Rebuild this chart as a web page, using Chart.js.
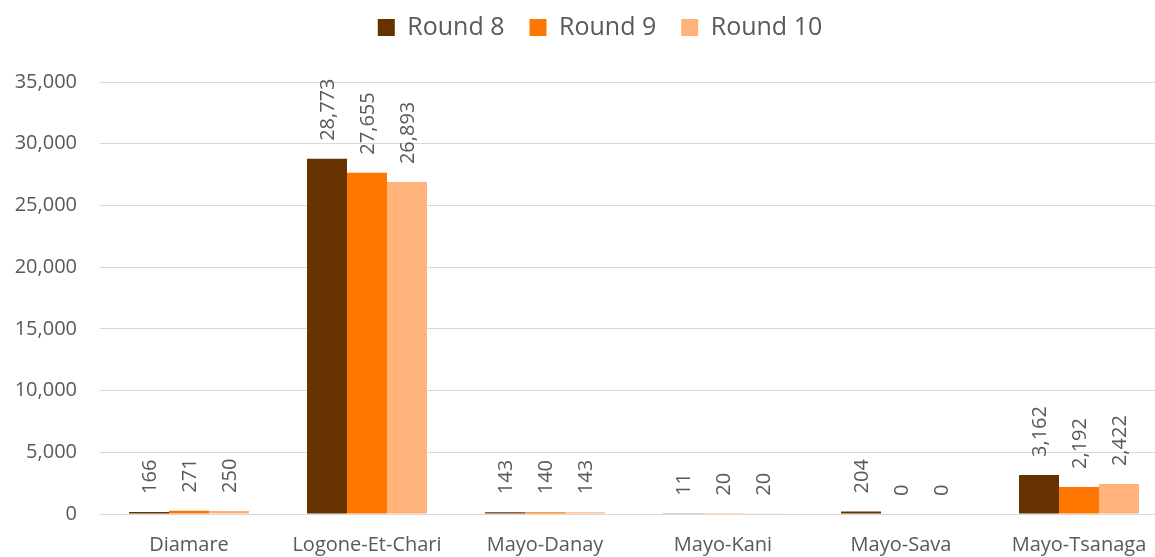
<!DOCTYPE html>
<html>
<head>
<meta charset="utf-8">
<script src="https://cdn.jsdelivr.net/npm/chart.js@4/dist/chart.umd.min.js"></script>
<style>
  html, body { margin: 0; padding: 0; background: #fff; overflow: hidden; }
  #wrap { width: 1200px; height: 557px; }
</style>
</head>
<body>
<div id="wrap"><canvas id="chart"></canvas></div>
<script>
const districts = ['Diamare', 'Logone-Et-Chari', 'Mayo-Danay', 'Mayo-Kani', 'Mayo-Sava', 'Mayo-Tsanaga'];
const round8 = [166, 28773, 143, 11, 204, 3162];
const round9 = [271, 27655, 140, 20, 0, 2192];
const round10 = [250, 26893, 143, 20, 0, 2422];
const yTicks = [0, 5000, 10000, 15000, 20000, 25000, 30000, 35000];

const textColor = '#595959';
const fontFamily = '"Open Sans", sans-serif';

// value labels written vertically above each bar
const barLabels = {
    id: 'barLabels',
    afterDatasetsDraw(chart) {
        const ctx = chart.ctx;
        ctx.save();
        ctx.fillStyle = textColor;
        ctx.font = '20px ' + fontFamily;
        ctx.textAlign = 'left';
        ctx.textBaseline = 'middle';
        chart.data.datasets.forEach((ds, i) => {
            chart.getDatasetMeta(i).data.forEach((bar, j) => {
                ctx.save();
                ctx.translate(bar.x + 1, bar.y - 18);
                ctx.rotate(-Math.PI / 2);
                ctx.fillText(ds.data[j].toLocaleString('en-US'), 0, 0);
                ctx.restore();
            });
        });
        ctx.restore();
    }
};

// fixed room under the legend, legend centred on the whole canvas
const legendSpace = {
    id: 'legendSpace',
    beforeInit(chart) {
        const fit = chart.legend.fit;
        chart.legend.fit = function () {
            fit.call(this);
            this.height = 92;
        };
    },
    afterLayout(chart) {
        chart.legend.left = 32;
    }
};

new Chart(document.getElementById('chart'), {
    type: 'bar',
    data: {
        labels: districts,
        datasets: [
            { label: 'Round 8', data: round8, backgroundColor: '#663300' },
            { label: 'Round 9', data: round9, backgroundColor: '#FF7600' },
            { label: 'Round 10', data: round10, backgroundColor: '#FFB37A' }
        ]
    },
    options: {
        responsive: true,
        maintainAspectRatio: false,
        animation: false,
        layout: { padding: { top: -10, right: 32, bottom: 0, left: 0 } },
        datasets: {
            bar: { categoryPercentage: 0.674, barPercentage: 1 }
        },
        plugins: {
            tooltip: { enabled: false },
            legend: {
                position: 'top',
                labels: {
                    boxWidth: 17,
                    boxHeight: 17,
                    padding: 25,
                    color: textColor,
                    font: { family: fontFamily, size: 25 },
                    generateLabels(chart) {
                        const items = Chart.defaults.plugins.legend.labels.generateLabels(chart);
                        items.forEach(it => { it.lineWidth = 0; });
                        return items;
                    }
                }
            }
        },
        scales: {
            x: {
                grid: { display: false },
                border: { display: false },
                ticks: {
                    color: textColor,
                    padding: 11,
                    maxRotation: 0,
                    font: { family: fontFamily, size: 20 }
                },
                afterFit(scale) { scale.height = 43; }
            },
            y: {
                min: 0,
                max: 35000,
                afterBuildTicks(scale) { scale.ticks = yTicks.map(v => ({ value: v })); },
                grid: { color: '#D9D9D9', lineWidth: 1, drawTicks: false },
                border: { display: false },
                ticks: {
                    color: textColor,
                    padding: 23,
                    font: { family: fontFamily, size: 20 },
                    callback: v => v.toLocaleString('en-US')
                },
                afterFit(scale) { scale.width = 100; }
            }
        }
    },
    plugins: [barLabels, legendSpace]
});
</script>
</body>
</html>
